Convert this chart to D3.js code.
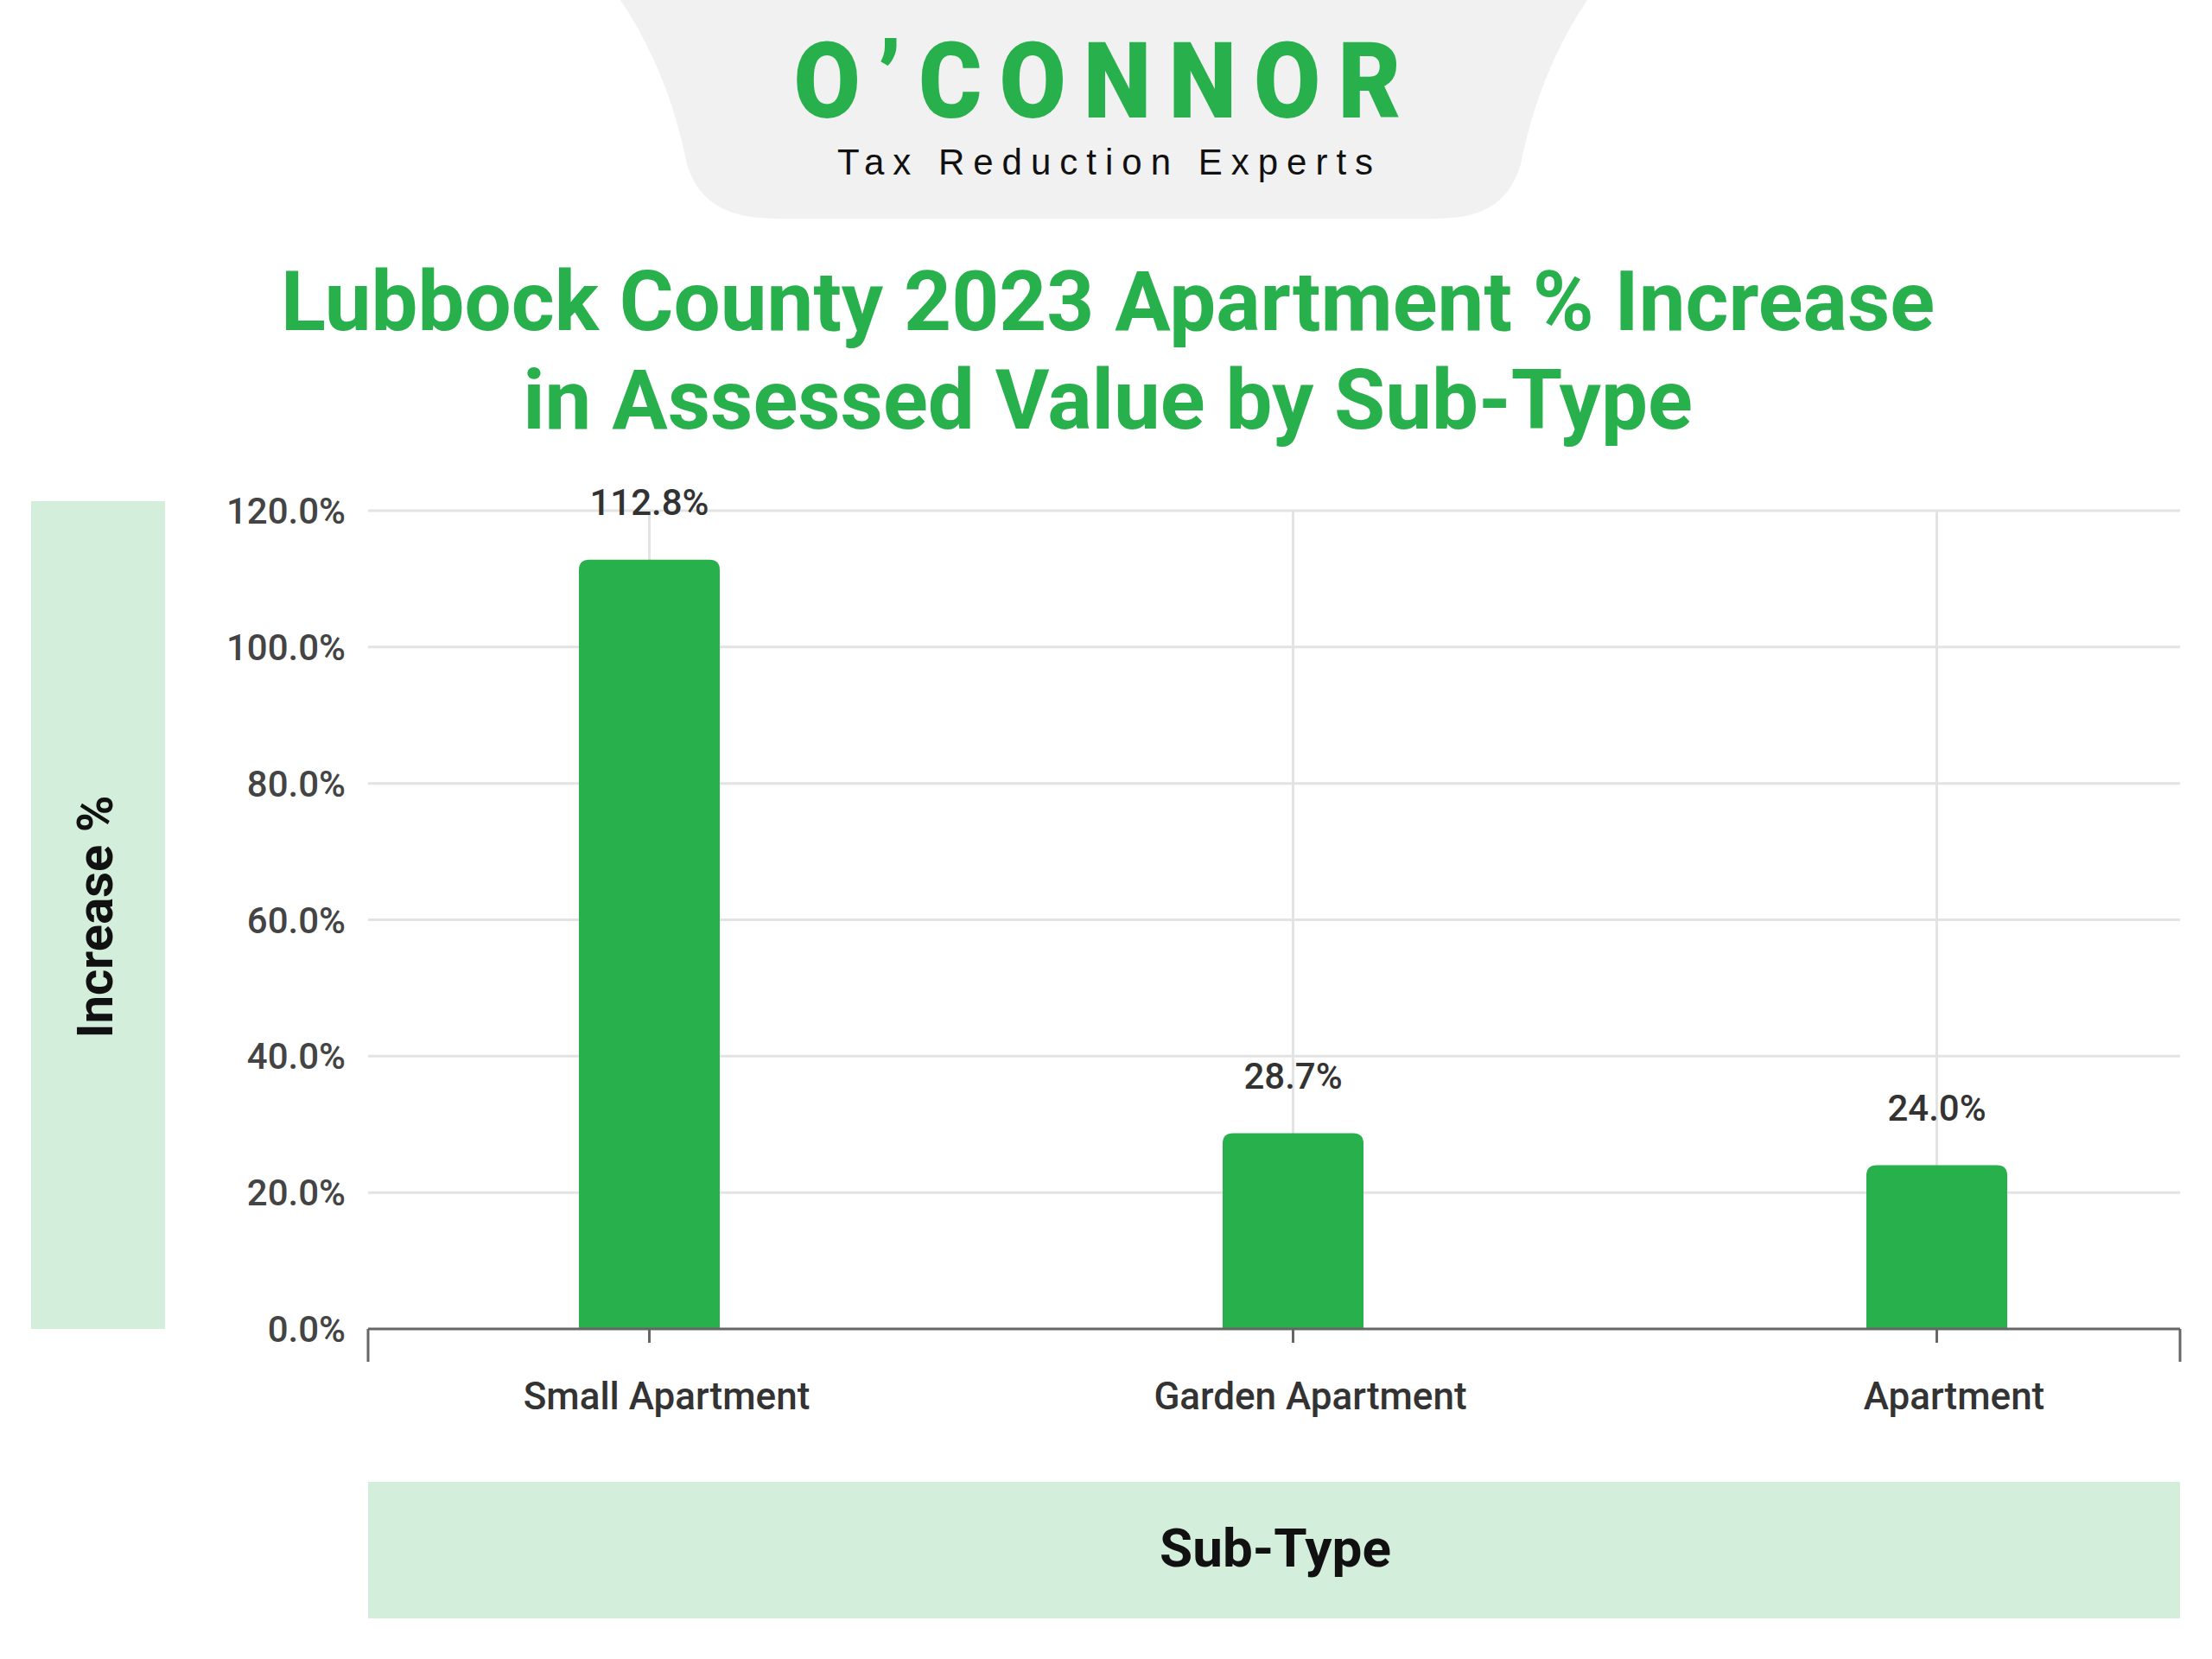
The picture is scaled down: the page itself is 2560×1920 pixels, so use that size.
<!DOCTYPE html>
<html><head><meta charset="utf-8">
<script src="https://cdn.jsdelivr.net/npm/d3@7"></script>
<style>body{margin:0;background:#fff}svg{display:block}</style>
</head><body>
<script>
const categories = ['Small Apartment', 'Garden Apartment', 'Apartment']
const values = [112.8, 28.7, 24.0]
const yTicks = [0, 20, 40, 60, 80, 100, 120]

const W = 2560, H = 1920
const green = '#27b04b'
const svg = d3.select('body').append('svg').attr('width', W).attr('height', H)
  .style('font-family', 'Roboto, sans-serif')

// logo badge
svg.append('path')
  .attr('d', 'M718,0 L1837,0 C1790,70 1770,140 1760,190 C1745,240 1710,253 1660,253 L900,253 C850,253 810,240 795,190 C785,140 765,70 718,0 Z')
  .attr('fill', '#f1f1f1')
svg.append('text').attr('x', 1280).attr('y', 136).attr('text-anchor', 'middle')
  .attr('font-size', 112).attr('font-weight', 900).attr('fill', green)
  .attr('letter-spacing', 20).attr('transform', 'translate(1280,136) scale(1,1.1) translate(-1280,-136)')
  .text('O’CONNOR')
svg.append('text').attr('x', 1284).attr('y', 202).attr('text-anchor', 'middle')
  .attr('font-size', 42).attr('fill', '#111').attr('letter-spacing', 10)
  .style('font-family', 'Liberation Sans, Arial').text('Tax Reduction Experts')

// title
svg.append('text').attr('x', 1282).attr('y', 382).attr('text-anchor', 'middle')
  .attr('font-size', 96).attr('font-weight', 700).attr('fill', green)
  .text('Lubbock County 2023 Apartment % Increase')
svg.append('text').attr('x', 1282).attr('y', 496).attr('text-anchor', 'middle')
  .attr('font-size', 96).attr('font-weight', 700).attr('fill', green)
  .text('in Assessed Value by Sub-Type')

const x0 = 426, x1 = 2523, yTop = 591, yBot = 1538
// bands centred on the bars; the plot frame runs x0..x1
const x = d3.scaleBand().domain(categories).range([379, 2614])
const y = d3.scaleLinear().domain([0, 120]).range([yBot, yTop])
const cx = d => x(d) + x.bandwidth() / 2

// axis title boxes
svg.append('rect').attr('x', 36).attr('y', 580).attr('width', 155).attr('height', 958).attr('fill', '#d4eedc')
svg.append('text').attr('transform', 'translate(130,1061) rotate(-90)').attr('text-anchor', 'middle')
  .attr('font-size', 58).attr('font-weight', 700).attr('fill', '#111').text('Increase %')
svg.append('rect').attr('x', x0).attr('y', 1715).attr('width', x1 - x0).attr('height', 158).attr('fill', '#d4eedc')
svg.append('text').attr('x', 1476).attr('y', 1813).attr('text-anchor', 'middle')
  .attr('font-size', 62).attr('font-weight', 700).attr('fill', '#111').text('Sub-Type')

// grid
svg.append('g').selectAll('line').data(yTicks.slice(1)).join('line')
  .attr('x1', x0).attr('x2', x1).attr('y1', d => y(d)).attr('y2', d => y(d))
  .attr('stroke', '#e3e3e3').attr('stroke-width', 3)
svg.append('g').selectAll('line').data(categories).join('line')
  .attr('x1', cx).attr('x2', cx).attr('y1', yTop).attr('y2', yBot)
  .attr('stroke', '#e3e3e3').attr('stroke-width', 3)

// y tick labels
svg.append('g').selectAll('text').data(yTicks).join('text')
  .attr('x', 400).attr('y', d => y(d) + 15).attr('text-anchor', 'end')
  .attr('font-size', 42).attr('font-weight', 500).attr('fill', '#444').text(d => d.toFixed(1) + '%')

// bars with rounded tops
const bw = 163, r = 12
svg.append('g').selectAll('path').data(values).join('path')
  .attr('d', (v, i) => {
    const c = cx(categories[i]), l = c - bw / 2, t = y(v)
    return `M${l},${yBot} L${l},${t + r} Q${l},${t} ${l + r},${t} L${l + bw - r},${t} Q${l + bw},${t} ${l + bw},${t + r} L${l + bw},${yBot} Z`
  })
  .attr('fill', green)
svg.append('g').selectAll('text').data(values).join('text')
  .attr('x', (v, i) => cx(categories[i])).attr('y', v => y(v) - 52)
  .attr('text-anchor', 'middle').attr('font-size', 42).attr('font-weight', 500).attr('fill', '#333')
  .text(v => v.toFixed(1) + '%')

// x axis
svg.append('line').attr('x1', x0).attr('x2', x1).attr('y1', yBot).attr('y2', yBot)
  .attr('stroke', '#666').attr('stroke-width', 3)
svg.append('g').selectAll('line').data([x0, x1]).join('line')
  .attr('x1', d => d).attr('x2', d => d).attr('y1', yBot).attr('y2', yBot + 38)
  .attr('stroke', '#666').attr('stroke-width', 3)
svg.append('g').selectAll('line').data(categories).join('line')
  .attr('x1', cx).attr('x2', cx).attr('y1', yBot).attr('y2', yBot + 16)
  .attr('stroke', '#666').attr('stroke-width', 3)
svg.append('g').selectAll('text').data(categories).join('text')
  .attr('x', d => cx(d) + 20).attr('y', 1631).attr('text-anchor', 'middle')
  .attr('font-size', 44).attr('font-weight', 500).attr('fill', '#333').text(d => d)
</script>
</body></html>
